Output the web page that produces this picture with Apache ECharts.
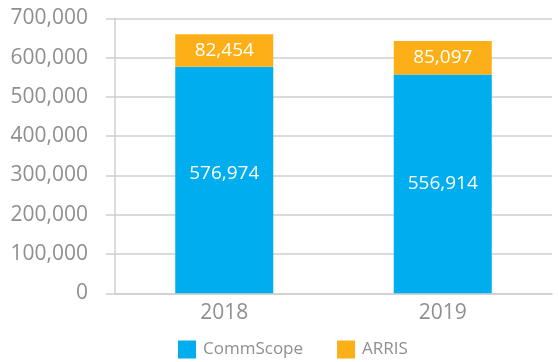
<!DOCTYPE html>
<html>
<head>
<meta charset="utf-8">
<script src="https://cdn.jsdelivr.net/npm/echarts@6/dist/echarts.min.js"></script>
<style>
  html, body { margin: 0; padding: 0; background: #fff; }
  #chart { width: 558px; height: 362px; }
</style>
</head>
<body>
<div id="chart"></div>
<script>
// Years on the category axis
const years = ['2018', '2019'];
// Stacked segments per year
const commscope = [576974, 556914];
const arris = [82454, 85097];
// Value axis range
const yMin = 0;
const yMax = 700000;
const yStep = 100000;

const fmt = v => Number(v).toLocaleString('en-US');
const font = '"Open Sans", "Noto Sans", sans-serif';
const grey = '#8f8f8f';
const lineGrey = '#cfcfcf';

// The first CommScope value label sits a little above the segment's middle
const commscopeLabelShift = [[0, -6], [0, 0]];
const commscopeData = commscope.map((v, i) => ({
  value: v,
  label: { offset: commscopeLabelShift[i] }
}));

const barLabel = {
  show: true,
  position: 'inside',
  color: '#fff',
  fontSize: 19,
  fontFamily: font,
  formatter: p => fmt(p.value)
};

const chart = echarts.init(document.getElementById('chart'), null, { renderer: 'canvas' });
chart.setOption({
  animation: false,
  textStyle: { fontFamily: font },
  grid: { left: 115, right: 6, top: 18.3, bottom: 68.7, containLabel: false },
  legend: {
    data: ['CommScope', 'ARRIS'],
    left: 173,
    top: 335.5,
    itemWidth: 18,
    itemHeight: 18,
    itemGap: 34,
    icon: 'rect',
    textStyle: { color: grey, fontSize: 17, fontFamily: font, padding: [0, 0, 0, 2] }
  },
  xAxis: {
    type: 'category',
    data: years,
    axisLine: { show: true, lineStyle: { color: lineGrey, width: 1.5 } },
    axisTick: { show: false },
    axisLabel: { color: grey, fontSize: 21, margin: 9, fontFamily: font }
  },
  yAxis: {
    type: 'value',
    min: yMin,
    max: yMax,
    interval: yStep,
    axisLine: { show: true, lineStyle: { color: lineGrey, width: 1.5 } },
    axisTick: { show: true, length: 9, lineStyle: { color: lineGrey, width: 1.5 } },
    splitLine: { show: true, lineStyle: { color: lineGrey, width: 1.5 } },
    axisLabel: { color: grey, fontSize: 21, margin: 27, fontFamily: font, formatter: fmt }
  },
  series: [
    {
      name: 'CommScope',
      type: 'bar',
      stack: 'total',
      data: commscopeData,
      barWidth: 98,
      itemStyle: { color: '#00ADEE' },
      label: barLabel
    },
    {
      name: 'ARRIS',
      type: 'bar',
      stack: 'total',
      data: arris,
      barWidth: 98,
      itemStyle: { color: '#FDAF17' },
      label: barLabel
    }
  ]
});
</script>
</body>
</html>
